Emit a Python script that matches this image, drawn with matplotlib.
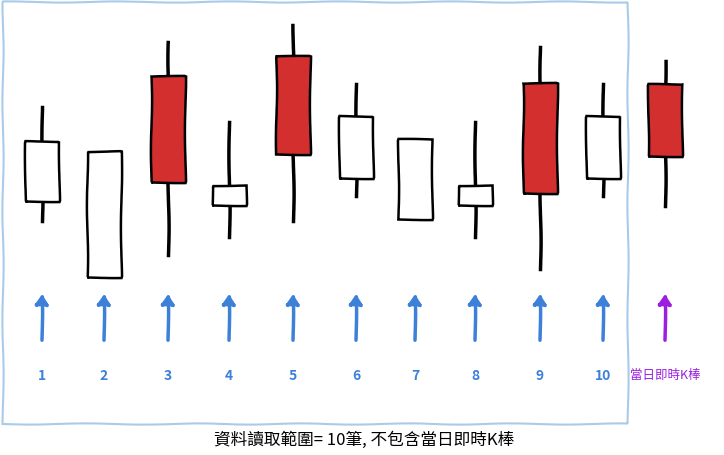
import matplotlib
matplotlib.use('Agg')
import matplotlib.pyplot as plt
from matplotlib.patches import Rectangle, FancyArrowPatch

# candle data (price units), None = no wick
labels = ['1', '2', '3', '4', '5', '6', '7', '8', '9', '10', '當日即時K棒']
opens  = [254, 304, 273, 250, 301, 277, 236, 250, 262, 277, 299]
closes = [314, 178, 379, 270, 399, 339, 316, 270, 372, 339, 371]
highs  = [348, None, 413, 333, 430, 371, None, 333, 408, 371, 394]
lows   = [234, None, 200, 218, 234, 259, None, 218, 186, 259, 249]
xs = [42, 104, 168, 229, 293, 356, 415, 475, 540, 603, 665]

with plt.xkcd(scale=0.6, length=120, randomness=2):
    plt.rcParams['font.family'] = ['Noto Sans CJK TC', 'DejaVu Sans']
    plt.rcParams['path.effects'] = []
    fig = plt.figure(figsize=(7.24, 4.56), dpi=100)
    ax = fig.add_axes([0, 0, 1, 1])
    ax.set_xlim(0, 724)
    ax.set_ylim(0, 456)
    ax.axis('off')

    ax.add_patch(Rectangle((3, 31), 625, 422, fill=False, ec='#a9cbe8', lw=1.5))

    for i, x in enumerate(xs):
        o, c = opens[i], closes[i]
        red = c > o and i in (2, 4, 8, 10)
        if highs[i] is not None:
            ax.plot([x, x], [lows[i], highs[i]], color='black', lw=2.5, zorder=1)
        lo, hi = min(o, c), max(o, c)
        ax.add_patch(Rectangle((x - 17, lo), 34, hi - lo, fc='#d32f2f' if red else 'white',
                               ec='black', lw=1.8, zorder=2))
        col = '#9b1fe0' if i == 10 else '#3c80d8'
        ax.add_patch(FancyArrowPatch((x, 112), (x, 164), arrowstyle='-|>,head_length=6,head_width=4',
                                     color=col, lw=2.5, mutation_scale=1))
        ax.text(x, 80, labels[i], color=col, ha='center', va='center',
                fontsize=10 if i < 10 else 9, fontweight='bold' if i < 10 else 'normal')

    ax.text(364, 16, '資料讀取範圍= 10筆, 不包含當日即時K棒', ha='center', va='center', fontsize=12)
    fig.savefig('out.png', dpi=100)
